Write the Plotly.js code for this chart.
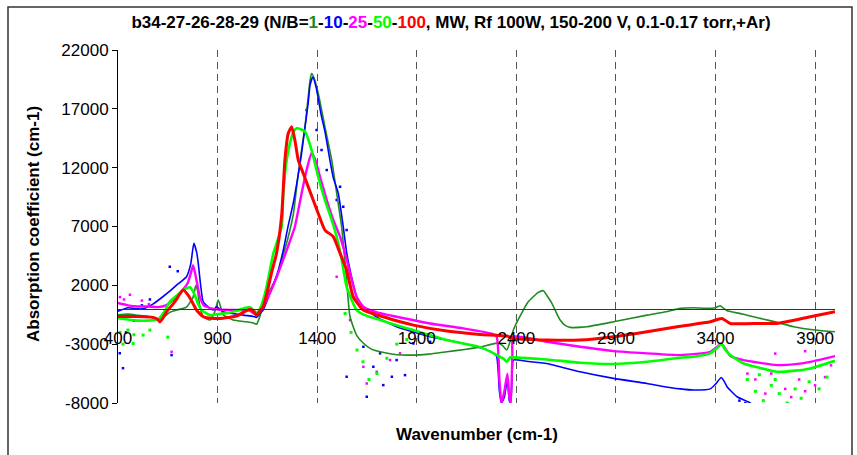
<!DOCTYPE html>
<html>
<head>
<meta charset="utf-8">
<script src="https://cdn.plot.ly/plotly-3.0.1.min.js"></script>
<style>
  html, body { margin: 0; padding: 0; background: #fff; }
  #chart { width: 857px; height: 455px; }
</style>
</head>
<body>
<div id="chart"></div>
<script>
// Absorption spectra, [wavenumber (cm-1), absorption coefficient (cm-1)]
// N/B = 1
const specNB1 = [[400,-500],[450,-450],[500,-550],[550,-650],[600,-850],[630,-700],[660,-300],[694,-100],[744,150],[777,1000],[791,2000],[800,1500],[811,200],[828,-650],[861,-950],[885,-300],[903,750],[915,200],[928,-500],[978,-950],[1046,-1100],[1080,-1200],[1096,-1300],[1112,-650],[1129,300],[1160,1500],[1200,2800],[1228,4500],[1253,6000],[1280,8000],[1303,11200],[1320,13300],[1339,15500],[1355,18000],[1364,19400],[1372,20000],[1385,19600],[1405,18350],[1439,15460],[1473,12650],[1498,9840],[1523,6960],[1545,3000],[1565,-670],[1600,-2300],[1631,-2900],[1670,-3400],[1716,-3650],[1800,-3900],[1882,-3930],[1960,-3850],[2051,-3650],[2140,-3450],[2218,-3250],[2302,-2910],[2330,-3100],[2352,-3500],[2370,-2700],[2385,-1800],[2410,-900],[2435,-100],[2460,600],[2485,1030],[2510,1400],[2536,1540],[2555,1100],[2578,490],[2600,-300],[2620,-950],[2645,-1400],[2670,-1570],[2754,-1520],[2888,-1100],[3056,-530],[3150,-250],[3223,40],[3290,100],[3357,40],[3400,100],[3424,270],[3440,50],[3458,-160],[3540,-450],[3625,-810],[3710,-1150],[3792,-1520],[3900,-1800],[4000,-1950]];

// N/B = 10
const specNB10 = [[400,-200],[450,100],[500,0],[525,0],[575,400],[625,1030],[660,1500],[694,2020],[744,2730],[765,3800],[781,5570],[795,4800],[803,3870],[815,2000],[828,600],[861,40],[880,-100],[895,180],[910,0],[928,-250],[1029,-530],[1080,-650],[1096,-720],[1112,-400],[1129,-100],[1160,1200],[1200,3000],[1230,5000],[1253,6950],[1280,9000],[1303,11200],[1320,13000],[1339,15460],[1355,17500],[1364,19000],[1378,19700],[1395,18800],[1420,16500],[1440,15000],[1464,12650],[1480,11200],[1506,9820],[1531,6980],[1548,4800],[1565,3300],[1598,1030],[1632,180],[1700,-700],[1799,-1520],[1880,-1950],[1967,-2370],[2050,-2650],[2134,-2940],[2218,-3300],[2268,-3600],[2300,-4000],[2315,-7000],[2325,-8000],[2340,-7500],[2355,-6000],[2365,-7800],[2372,-8000],[2380,-5000],[2385,-4350],[2450,-4450],[2553,-4640],[2720,-5350],[2888,-5910],[3056,-6340],[3123,-6550],[3223,-6800],[3290,-6900],[3374,-6800],[3400,-6400],[3429,-5830],[3445,-6200],[3458,-6620],[3508,-7470],[3575,-8000],[3580,-8200]];

// N/B = 25
const specNB25 = [[400,500],[450,300],[500,200],[550,200],[600,150],[640,300],[680,800],[720,1500],[750,2200],[765,3000],[777,3720],[790,2800],[811,1030],[830,300],[845,180],[880,0],[900,-50],[1000,-100],[1060,-150],[1096,-530],[1112,-200],[1129,200],[1180,2000],[1230,4200],[1260,5600],[1288,6980],[1322,9820],[1347,11800],[1372,13250],[1390,12700],[1414,11230],[1448,9250],[1481,7550],[1515,6130],[1548,4200],[1565,3020],[1598,1030],[1632,180],[1700,-300],[1799,-670],[1967,-1240],[2134,-1660],[2268,-2080],[2300,-2300],[2315,-6000],[2325,-8000],[2340,-7000],[2355,-5500],[2365,-7500],[2372,-8000],[2380,-4000],[2385,-2370],[2553,-2800],[2720,-3220],[2888,-3590],[3056,-3780],[3223,-3930],[3374,-3650],[3410,-3200],[3429,-2930],[3450,-3400],[3475,-4000],[3541,-4350],[3709,-4780],[3800,-4700],[3876,-4500],[4000,-4010]];

// N/B = 50
const specNB50 = [[400,-800],[450,-900],[500,-1000],[550,-1000],[600,-900],[630,-300],[660,600],[700,1200],[727,1600],[761,1830],[786,1170],[800,500],[820,-100],[861,-530],[900,-450],[950,-350],[1000,-150],[1040,100],[1062,130],[1080,-100],[1096,-380],[1112,0],[1129,750],[1146,1880],[1180,4720],[1222,7000],[1230,9820],[1247,12650],[1263,14070],[1280,15000],[1297,15350],[1320,15250],[1339,15060],[1372,13500],[1405,11230],[1439,9250],[1473,7550],[1498,6130],[1520,4500],[1548,1880],[1598,-100],[1650,-600],[1716,-950],[1800,-1400],[1883,-1800],[1967,-2250],[2051,-2650],[2134,-2950],[2218,-3250],[2318,-4070],[2340,-4300],[2352,-4500],[2370,-4100],[2385,-4120],[2553,-4300],[2720,-4580],[2888,-4690],[3056,-4500],[3223,-4150],[3290,-4070],[3374,-3780],[3410,-3300],[3429,-2990],[3450,-3500],[3474,-3930],[3541,-4640],[3620,-5000],[3709,-5350],[3800,-5250],[3876,-5060],[4000,-4410]];

// N/B = 100
const specNB100 = [[400,-650],[450,-650],[500,-650],[576,-720],[600,-900],[610,-1100],[625,-800],[644,-250],[685,600],[727,1600],[752,1170],[775,500],[794,-100],[828,-670],[870,-800],[912,-810],[995,-610],[1040,-200],[1062,-40],[1080,-200],[1096,-530],[1112,-200],[1129,180],[1150,1500],[1170,3000],[1196,4720],[1222,8000],[1238,12650],[1255,14920],[1272,15480],[1288,14350],[1305,12650],[1330,11520],[1355,10380],[1380,9250],[1405,8120],[1439,6700],[1481,6130],[1515,4720],[1548,3300],[1581,1030],[1632,-100],[1732,-670],[1816,-1100],[1883,-1380],[2051,-1890],[2218,-2170],[2352,-2310],[2385,-2510],[2553,-2650],[2720,-2650],[2888,-2370],[3056,-1950],[3207,-1520],[3374,-1100],[3410,-900],[3433,-810],[3474,-1240],[3625,-1240],[3709,-1240],[3876,-670],[4000,-250]];

// Scattered noisy readings
const scatNB10 = [[409,-3770],[425,-5040],[440,-2000],[480,-1000],[520,300],[560,800],[660,3580],[669,-3930],[700,3200],[1347,16900],[1397,15200],[1422,13500],[1448,11800],[1498,9250],[1515,10380],[1531,8680],[1548,6700],[1548,-5770],[1632,-3220],[1649,-7470],[1682,-4920],[1716,-3780],[1732,-6480],[1775,-5770],[1799,-4350],[1841,-5630],[1883,-2940],[1967,-2800],[3520,-7800],[3550,-8000]];
const scatNB25 = [[410,1000],[430,800],[460,1200],[520,700],[555,400],[669,-3650],[1498,2730],[1565,-950],[1632,-4920],[1649,-6340],[1699,-5350],[1766,-4350],[1816,-3780],[3560,-5500],[3600,-6000],[3650,-7200],[3680,-5500],[3700,-3800],[3750,-6800],[3780,-7500],[3820,-6000],[3850,-7000],[3850,-3600],[3900,-6500],[3950,-5800],[3980,-4800]];
const scatNB50 = [[410,-2000],[425,-3000],[450,-1800],[476,-2940],[480,-2200],[526,-2230],[560,-1800],[650,-2400],[1540,-400],[1570,-2000],[1600,-3500],[1630,-4500],[1660,-6000],[1700,-5500],[1750,-4200],[1800,-3000],[1850,-2600],[3560,-6000],[3600,-7000],[3620,-5600],[3640,-7800],[3680,-6500],[3700,-6000],[3720,-7200],[3760,-8000],[3800,-6800],[3830,-7600],[3870,-6200],[3920,-6800],[3960,-5800]];

const xTicks = [400, 900, 1400, 1900, 2400, 2900, 3400, 3900];
const yTicks = [-8000, -3000, 2000, 7000, 12000, 17000, 22000];
const yTickText = ['-8000', '-3000', '2000', '7000', '12000', '17000', '22000'];

const colNB1 = '#1f8a1f', colNB10 = '#0000ff', colNB25 = '#ff00ff', colNB50 = '#00ff00', colNB100 = '#ff0000';

function lineTrace(data, color, width) {
  return { x: data.map(p => p[0]), y: data.map(p => p[1]), type: 'scatter', mode: 'lines',
           line: { color: color, width: width, shape: 'spline', smoothing: 0.5 },
           hoverinfo: 'skip', showlegend: false };
}
function dotTrace(data, color, size) {
  return { x: data.map(p => p[0]), y: data.map(p => p[1]), type: 'scatter', mode: 'markers',
           marker: { color: color, size: size, symbol: 'square' }, hoverinfo: 'skip', showlegend: false };
}

const traces = [
  dotTrace(scatNB10, colNB10, 2.5),
  dotTrace(scatNB25, colNB25, 2.5),
  dotTrace(scatNB50, colNB50, 3),
  lineTrace(specNB1, colNB1, 1.6),
  lineTrace(specNB10, colNB10, 1.6),
  lineTrace(specNB25, colNB25, 2.4),
  lineTrace(specNB50, colNB50, 2.6),
  lineTrace(specNB100, colNB100, 3)
];

const titleText = '<b>b34-27-26-28-29 (N/B=<span style="color:' + colNB1 + '">1</span>-' +
  '<span style="color:' + colNB10 + '">10</span>-' +
  '<span style="color:' + colNB25 + '">25</span>-' +
  '<span style="color:' + colNB50 + '">50</span>-' +
  '<span style="color:' + colNB100 + '">100</span>, MW, Rf 100W, 150-200 V, 0.1-0.17 torr,+Ar)</b>';

const layout = {
  width: 857, height: 455,
  margin: { l: 118, r: 22, t: 50, b: 52 },
  paper_bgcolor: '#ffffff', plot_bgcolor: '#ffffff',
  font: { family: '"Liberation Sans", Arial, sans-serif', color: '#000' },
  title: { text: titleText, x: 451 / 857, xref: 'container', xanchor: 'center',
           y: 1 - 22 / 455, yref: 'container', yanchor: 'middle',
           font: { size: 17, color: '#000' } },
  xaxis: {
    range: [400, 4000], anchor: 'free', position: 8000 / 30000,
    tickvals: xTicks, ticktext: xTicks.map(String),
    ticks: 'outside', ticklen: 14, tickcolor: 'rgba(0,0,0,0)',
    tickfont: { size: 17, color: '#000' },
    showline: true, linecolor: '#333', linewidth: 1,
    showgrid: true, gridcolor: '#555', gridwidth: 1, griddash: '7px,5px',
    zeroline: false
  },
  yaxis: {
    range: [-8000, 22000],
    tickvals: yTicks, ticktext: yTickText,
    ticks: 'outside', ticklen: 5, tickcolor: '#000',
    tickfont: { size: 17, color: '#000' },
    showline: true, linecolor: '#000', linewidth: 1,
    showgrid: false, zeroline: false
  },
  annotations: [
    { text: '<b>Wavenumber (cm-1)</b>', xref: 'paper', yref: 'paper', x: 0.5, y: -31 / 353,
      xanchor: 'center', yanchor: 'middle', showarrow: false, font: { size: 17, color: '#000' } },
    { text: '<b>Absorption coefficient (cm-1)</b>', xref: 'paper', yref: 'paper',
      x: (33 - 118) / 717, y: (403 - 224) / 353, textangle: -90,
      xanchor: 'center', yanchor: 'middle', showarrow: false, font: { size: 17, color: '#000' } }
  ],
  shapes: [
    { type: 'rect', xref: 'paper', yref: 'paper',
      x0: (8 - 118) / 717, x1: (852 - 118) / 717, y0: (403 - 480) / 353, y1: (403 - 7) / 353,
      line: { color: '#333', width: 1.5 }, fillcolor: 'rgba(0,0,0,0)', layer: 'below' }
  ]
};

Plotly.newPlot('chart', traces, layout, { staticPlot: true, displayModeBar: false });
</script>
</body>
</html>
